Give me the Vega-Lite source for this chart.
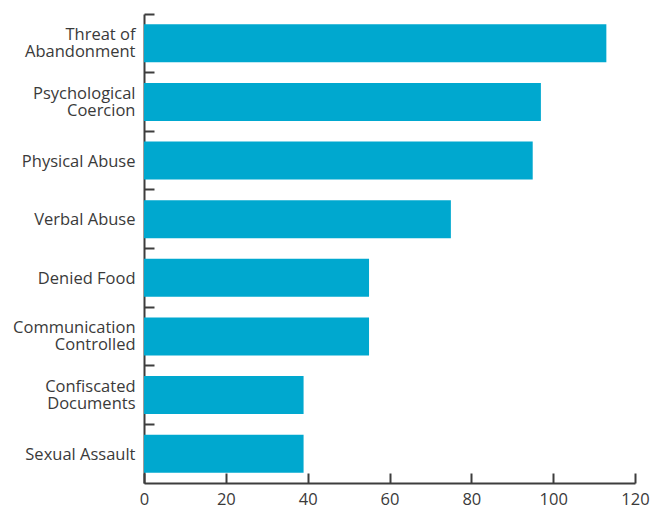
{
  "$schema": "https://vega.github.io/schema/vega-lite/v6.json",
  "width": 491,
  "height": 469,
  "autosize": {"type": "none"},
  "padding": {"left": 144, "top": 14, "right": 25, "bottom": 27},
  "config": {
    "view": {"stroke": null},
    "font": "Open Sans",
    "axis": {
      "domainColor": "#3d3d3d",
      "domainWidth": 2,
      "tickColor": "#3d3d3d",
      "tickWidth": 2,
      "labelColor": "#3a3a3a",
      "labelFont": "Open Sans",
      "labelFontSize": 16.5,
      "labelFlush": false,
      "labelOverlap": false,
      "grid": false,
      "title": null
    }
  },
  "data": {
    "values": [
      {"category": "Threat of Abandonment", "count": 113},
      {"category": "Psychological Coercion", "count": 97},
      {"category": "Physical Abuse", "count": 95},
      {"category": "Verbal Abuse", "count": 75},
      {"category": "Denied Food", "count": 55},
      {"category": "Communication Controlled", "count": 55},
      {"category": "Confiscated Documents", "count": 39},
      {"category": "Sexual Assault", "count": 39}
    ]
  },
  "mark": {"type": "bar", "color": "#00A8CF"},
  "encoding": {
    "y": {
      "field": "category",
      "type": "nominal",
      "sort": null,
      "scale": {"paddingInner": 0.35, "paddingOuter": 0.175},
      "axis": {
        "bandPosition": -0.2692,
        "tickSize": -10,
        "labelPadding": 19,
        "labelLineHeight": 17,
        "labelOffset": {"condition": {"test": "length(datum.value) > 15", "value": -8}, "value": 1},
        "labelExpr": "length(datum.value) > 15 ? [slice(datum.value, 0, lastindexof(datum.value, ' ')), slice(datum.value, lastindexof(datum.value, ' ') + 1)] : datum.value"
      }
    },
    "x": {
      "field": "count",
      "type": "quantitative",
      "scale": {"domain": [0, 120], "nice": false},
      "axis": {
        "values": [0, 20, 40, 60, 80, 100, 120],
        "tickSize": -10,
        "labelPadding": 18
      }
    }
  }
}
